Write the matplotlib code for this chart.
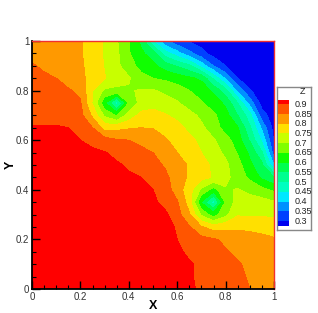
import numpy as np
import matplotlib
matplotlib.use('Agg')
import matplotlib.pyplot as plt

plt.rcParams['font.family'] = ['Liberation Sans', 'DejaVu Sans']

W, H = 318, 313

# grid, rows go from Y=1 down to Y=0
x = np.arange(21) * 0.05
y = np.arange(20, -1, -1) * 0.05
z = np.array([
    [.84, .835, .83, .82, .805, .775, .745, .705, .65, .59, .45, .36, .315, .295, .28, .27, .265, .26, .255, .25, .25],
    [.84, .84, .83, .82, .805, .775, .745, .71, .655, .61, .575, .475, .42, .365, .315, .28, .27, .265, .26, .25, .25],
    [.853, .845, .835, .82, .808, .78, .747, .712, .67, .635, .612, .575, .545, .51, .43, .35, .30, .275, .265, .255, .25],
    [.86, .855, .85, .83, .81, .785, .753, .72, .705, .665, .65, .64, .625, .61, .59, .49, .39, .30, .27, .26, .255],
    [.865, .865, .86, .855, .84, .75, .69, .69, .695, .705, .705, .69, .675, .65, .63, .59, .52, .385, .305, .27, .26],
    [.875, .875, .875, .87, .855, .745, .61, .47, .65, .72, .735, .72, .705, .68, .655, .625, .59, .50, .38, .28, .26],
    [.88, .88, .88, .875, .865, .79, .69, .645, .72, .765, .765, .755, .735, .715, .69, .66, .62, .55, .47, .32, .275],
    [.905, .905, .905, .90, .875, .85, .78, .785, .795, .80, .798, .785, .77, .735, .71, .675, .63, .605, .51, .39, .28],
    [.915, .915, .915, .91, .90, .885, .87, .855, .85, .84, .82, .805, .785, .765, .735, .705, .67, .625, .545, .44, .295],
    [.925, .925, .925, .92, .915, .91, .902, .89, .875, .86, .85, .83, .80, .78, .75, .72, .69, .645, .59, .505, .325],
    [.93, .93, .93, .93, .925, .92, .915, .905, .895, .88, .865, .845, .82, .795, .77, .74, .71, .67, .61, .565, .40],
    [.935, .935, .935, .935, .93, .925, .92, .915, .905, .90, .88, .86, .83, .79, .765, .745, .715, .675, .64, .59, .55],
    [.94, .94, .94, .94, .935, .93, .925, .92, .915, .91, .90, .875, .825, .77, .69, .625, .695, .703, .685, .665, .64],
    [.945, .945, .945, .945, .94, .94, .935, .93, .925, .92, .91, .885, .855, .775, .595, .47, .66, .72, .725, .72, .705],
    [.95, .95, .95, .95, .945, .945, .94, .935, .93, .925, .92, .91, .87, .805, .69, .625, .685, .745, .745, .745, .74],
    [.955, .955, .955, .955, .95, .95, .945, .94, .935, .93, .925, .915, .895, .855, .805, .775, .785, .79, .785, .78, .775],
    [.96, .96, .96, .96, .955, .955, .95, .95, .945, .94, .935, .925, .90, .875, .865, .855, .84, .83, .825, .815, .805],
    [.96, .96, .96, .96, .96, .955, .955, .95, .95, .945, .94, .93, .91, .89, .88, .87, .855, .84, .835, .83, .82],
    [.965, .965, .965, .96, .96, .96, .955, .955, .95, .95, .945, .935, .92, .905, .89, .88, .87, .855, .84, .835, .825],
    [.965, .965, .965, .965, .96, .96, .96, .955, .955, .95, .945, .94, .925, .905, .89, .88, .87, .86, .845, .835, .825],
    [.965, .965, .965, .965, .965, .96, .96, .96, .955, .955, .95, .94, .93, .91, .89, .88, .87, .86, .85, .84, .83],
])

levels = [.3, .35, .4, .45, .5, .55, .6, .65, .7, .75, .8, .85, .9]
level_labels = ['0.3', '0.35', '0.4', '0.45', '0.5', '0.55', '0.6', '0.65', '0.7', '0.75', '0.8', '0.85', '0.9']
colors = ['#0000f0', '#0040ff', '#0090ff', '#00e8ff', '#00ffc0', '#00ff90', '#00ff50', '#10ff00',
          '#80ff00', '#c8ff00', '#ffe000', '#ff9900', '#ff5500', '#ff0000']

fig = plt.figure(figsize=(W / 100, H / 100), dpi=100)


def px_axes(x0, y0, x1, y1):
    return fig.add_axes([x0 / W, 1 - y1 / H, (x1 - x0) / W, (y1 - y0) / H])


ax = px_axes(32, 41, 274, 289)
ax.contourf(x, y, z, levels=levels, colors=colors, extend='both')
ax.set_xlim(0, 1)
ax.set_ylim(0, 1)
ax.set_xticks([0, .2, .4, .6, .8, 1], ['0', '0.2', '0.4', '0.6', '0.8', '1'])
ax.set_yticks([0, .2, .4, .6, .8, 1], ['0', '0.2', '0.4', '0.6', '0.8', '1'])
ax.set_xticks(np.arange(21) * .05, minor=True)
ax.set_yticks(np.arange(21) * .05, minor=True)
ax.tick_params(which='major', direction='in', length=6, width=1, labelsize=7, pad=2, labelcolor='#333333')
ax.tick_params(which='minor', direction='in', length=3, width=.8)
ax.set_xlabel('X', fontsize=9, fontweight='bold', labelpad=-1)
ax.set_ylabel('Y', fontsize=9, fontweight='bold', labelpad=-1)
for s in ['left', 'bottom']:
    ax.spines[s].set_linewidth(1.3)
for s in ['top', 'right']:
    ax.spines[s].set_color('#f03030')
    ax.spines[s].set_linewidth(1)

# legend box
box = px_axes(277, 87, 311, 230)
box.set_xlim(277, 311)
box.set_ylim(230, 87)
box.set_xticks([])
box.set_yticks([])
for s in box.spines.values():
    s.set_color('#888888')
    s.set_linewidth(1)
box.text(303, 91.5, 'Z', fontsize=6.5, ha='center', va='center', color='#222222')

bar = px_axes(277.5, 100, 289, 226)
edges = [.2743] + levels + [.9221]
bar.pcolormesh([0, 1], edges, np.arange(14).reshape(-1, 1), cmap=matplotlib.colors.ListedColormap(colors))
bar.set_xlim(0, 1)
bar.set_ylim(.2743, .9221)
bar.axis('off')
for lev, lab in zip(levels, level_labels):
    bar.annotate(lab, (1, lev), xytext=(4.3, 0), textcoords='offset points', fontsize=6.5,
                 va='center', ha='left', color='#222222', annotation_clip=False)

fig.savefig('out.png', dpi=100)
